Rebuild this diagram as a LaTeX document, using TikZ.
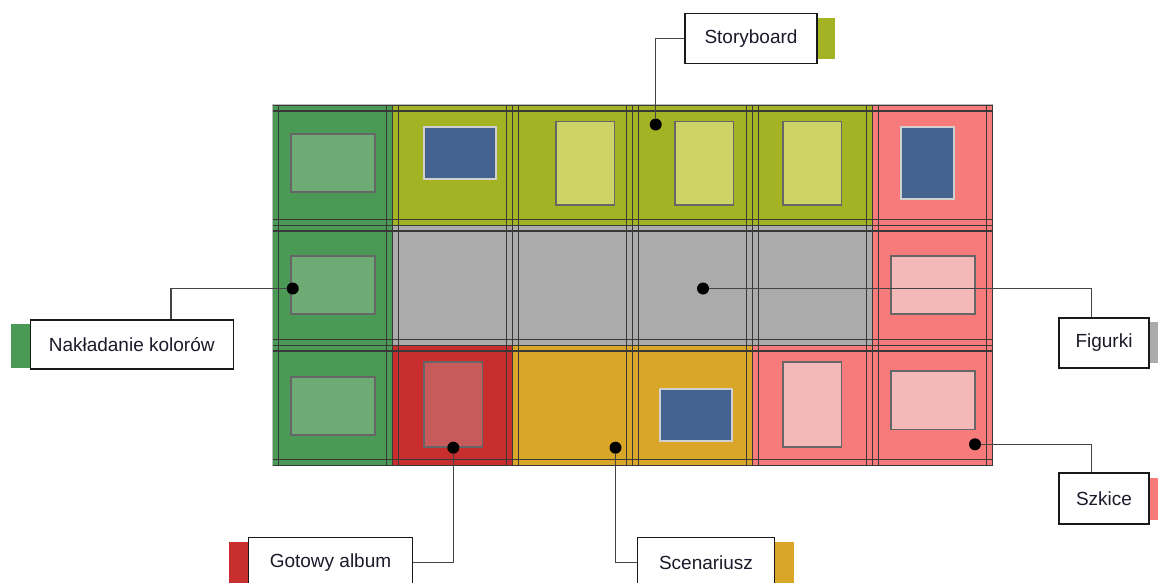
\documentclass[tikz,border=0pt]{standalone}
\usepackage{fontspec}
\setmainfont{Liberation Sans}
\definecolor{cgreen}{HTML}{4A9A55}
\definecolor{clgreen}{HTML}{6DAA74}
\definecolor{colive}{HTML}{A4B323}
\definecolor{clolive}{HTML}{CDD366}
\definecolor{csalmon}{HTML}{F87B7B}
\definecolor{cpink}{HTML}{F5B8B8}
\definecolor{cgray}{HTML}{ABABAB}
\definecolor{cred}{HTML}{C92E2F}
\definecolor{credcard}{HTML}{C75A5A}
\definecolor{corange}{HTML}{DAA628}
\definecolor{cblue}{HTML}{44648F}
\definecolor{bluebord}{HTML}{D0D0D0}
\definecolor{cardline}{HTML}{666666}
\definecolor{gridc}{HTML}{383838}
\definecolor{framec}{HTML}{BBBBBB}
\definecolor{connc}{HTML}{444444}
\definecolor{textc}{HTML}{1A1A2A}
\begin{document}
\begin{tikzpicture}[x=1pt,y=-1pt,
  card/.style={fill=#1, draw=cardline, line width=1.1pt},
  bluecard/.style={fill=cblue, draw=bluebord, line width=1.2pt},
  gridline/.style={draw=gridc, line width=1.1pt},
  blackdot/.style={circle, fill=black, inner sep=0pt, minimum size=12pt},
  tagbox/.style={draw=black!90, line width=1.2pt, fill=white, minimum height=50pt, inner sep=0pt, font=\fontsize{19}{23}\selectfont, text=textc},
  tabfill/.style={fill=#1},
  conn/.style={draw=connc, line width=1.3pt}]
\useasboundingbox (0,0) rectangle (1158,583);
\clip (0,0) rectangle (1158,583);
% cells
\foreach \col [count=\i from 0] in {cgreen,colive,colive,colive,colive,csalmon}
  \fill[\col] (273+120*\i,105) rectangle ++(120,120);
\foreach \col [count=\i from 0] in {cgreen,cgray,cgray,cgray,cgray,csalmon}
  \fill[\col] (273+120*\i,225) rectangle ++(120,120);
\foreach \col [count=\i from 0] in {cgreen,cred,corange,corange,csalmon,csalmon}
  \fill[\col] (273+120*\i,345) rectangle ++(120,120.5);
% cards
\draw[card=clgreen] (291,134) rectangle (375,192);
\draw[bluecard] (424,127) rectangle (496,179);
\draw[card=clolive] (556,121.5) rectangle (614.5,205);
\draw[card=clolive] (675,121.5) rectangle (733.5,205);
\draw[card=clolive] (783,121.5) rectangle (841.5,205);
\draw[bluecard] (901,127) rectangle (954,199);
\draw[card=clgreen] (291,256) rectangle (375,314);
\draw[card=cpink] (891,256) rectangle (975,314);
\draw[card=clgreen] (291,377) rectangle (375,435);
\draw[card=credcard] (424,362) rectangle (482.5,447);
\draw[bluecard] (660,389) rectangle (732,441);
\draw[card=cpink] (783,362) rectangle (841.5,447);
\draw[card=cpink] (891,371) rectangle (975,429.5);
% frame and grid lines
\draw[framec, line width=1pt] (272.5,465.5) -- (272.5,104.5) -- (993,104.5);
\foreach \k in {0,...,3}
  \draw[gridline] (273,105.7+120*\k) -- (993,105.7+120*\k);
\foreach \k in {0,...,2}
  \draw[gridline] (273,111+120*\k) -- (993,111+120*\k);
\foreach \k in {1,...,3}
  \draw[gridline] (273,99.7+120*\k) -- (993,99.7+120*\k);
\foreach \k in {1,...,6}
  \draw[gridline] (272.5+120*\k,105) -- (272.5+120*\k,465.5);
\foreach \k in {1,...,6}
  \draw[gridline] (266.5+120*\k,105) -- (266.5+120*\k,465.5);
\foreach \k in {0,...,5}
  \draw[gridline] (278.5+120*\k,105) -- (278.5+120*\k,465.5);
% tabs
\fill[tabfill=colive] (817,17.7) rectangle (835,59);
\fill[tabfill=cgreen] (11,324) rectangle (30,367.5);
\fill[tabfill=cgray] (1149,322) rectangle (1167,363);
\fill[tabfill=csalmon] (1149,477.5) rectangle (1167,520);
\fill[tabfill=cred] (229,541.7) rectangle (248.5,600);
\fill[tabfill=corange] (774.5,541.7) rectangle (793.5,600);
% label boxes
\node[tagbox, minimum width=132pt] (sb) at (751,38.3) {Storyboard};
\node[tagbox, minimum width=203pt, minimum height=49pt] (nk) at (131.7,344.5) {Nakładanie kolorów};
\node[tagbox, minimum width=90pt] (fg) at (1104,343) {Figurki};
\node[tagbox, minimum width=90pt, minimum height=51pt] (sz) at (1104,498.5) {Szkice};
\node[tagbox, minimum width=164pt] (ga) at (330.5,562.5) {Gotowy album};
\node[tagbox, minimum width=137.5pt] (sc) at (706,562.5) {Scenariusz};
% dots
\node[blackdot] (dS) at (655.7,124.5) {};
\node[blackdot] (dN) at (292.7,288.5) {};
\node[blackdot] (dF) at (703,288.5) {};
\node[blackdot] (dSz) at (975,444.3) {};
\node[blackdot] (dG) at (453.3,447.7) {};
\node[blackdot] (dSc) at (615.5,447.7) {};
% connectors
\draw[conn] (dS) |- (sb.west);
\draw[conn] (dN) -| ([xshift=141.5pt]nk.north west);
\draw[conn] (dF) -| ([xshift=33pt]fg.north west);
\draw[conn] (dSz) -| ([xshift=33pt]sz.north west);
\draw[conn] (dG) |- (ga.east);
\draw[conn] (dSc) |- (sc.west);
\end{tikzpicture}
\end{document}
